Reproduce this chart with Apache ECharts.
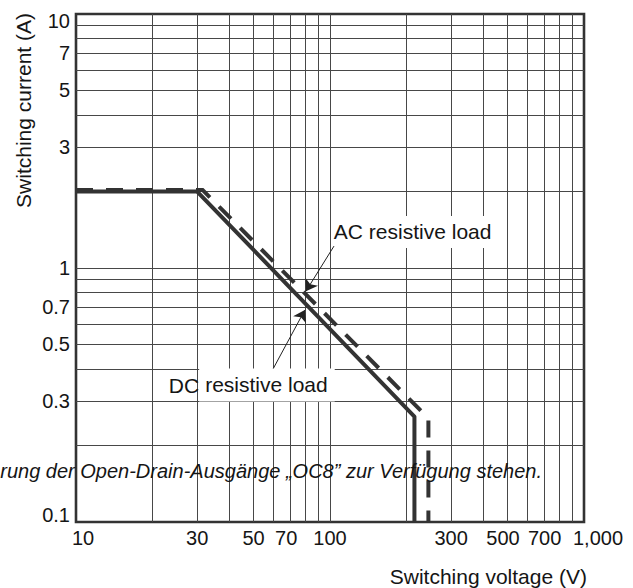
<!DOCTYPE html>
<html><head><meta charset="utf-8">
<script src="https://cdn.jsdelivr.net/npm/echarts@6/dist/echarts.min.js"></script>
<style>html,body{margin:0;padding:0;background:#fff}#c{width:633px;height:588px}</style>
</head><body><div id="c"></div>
<script>
// ---- data ----
const xGridValues = [20,30,40,50,60,70,80,90,100,200,300,400,500,600,700,800,900];
const yGridValues = [0.2,0.3,0.4,0.5,0.6,0.7,0.8,0.9,1,2,3,4,5,6,7,8,9];
const xTickLabels = [10,30,50,70,100,300,500,700,1000];
const yTickLabels = [0.1,0.3,0.5,0.7,1,3,5,7,10];
const dcVoltage = [10,30,215,215];
const dcCurrent = [2,2,0.26,0.1];
const acVoltage = [10,31.5,244,244];
const acCurrent = [2.03,2.03,0.256,0.1];
const acName = 'AC resistive load';
const dcName = 'DC resistive load';
const acArrowFrom = [103.7,1.22], acArrowTo = [80.4,0.81];
const dcArrowFrom = [59.4,0.397], dcArrowTo = [79.6,0.683];
const acLabelAt = [103.4,1.386];
const dcLabelAt = [23.2,0.346];
const xTitle = 'Switching voltage (V)';
const yTitle = 'Switching current (A)';
const strayText = 'rung der Open-Drain-Ausgänge „OC8” zur Verfügung stehen.';

// ---- chart ----
const FF = '"Liberation Sans", Arial, Helvetica, sans-serif';
const ink = '#151515';
const lineInk = '#333333';
const gridInk = '#474747';
const zip = (a,b) => a.map((v,i)=>[v,b[i]]);
const fmtNum = v => { const n = +(+v).toPrecision(6); return n >= 1000 ? n.toLocaleString('en-US') : String(n); };

const chart = echarts.init(document.getElementById('c'), null, {renderer:'svg'});
const txt = {fontFamily: FF, fontSize: 20, color: ink};
const big = {fontFamily: FF, fontSize: 21, color: ink};

chart.setOption({
  animation: false,
  backgroundColor: '#fff',
  grid: {left: 76, right: 49, top: 14, bottom: 66, show: true, borderColor: lineInk, borderWidth: 2.6, backgroundColor: 'transparent'},
  xAxis: {
    type: 'log', logBase: 10, min: 10, max: 1000,
    name: xTitle, nameLocation: 'end', nameGap: 3,
    nameTextStyle: Object.assign({}, big, {align: 'right', verticalAlign: 'top', padding: [44,0,0,0]}),
    axisLine: {show: false},
    axisTick: {show: false, customValues: xGridValues},
    splitLine: {show: true, lineStyle: {color: gridInk, width: 1}},
    minorTick: {show: false}, minorSplitLine: {show: false},
    axisLabel: Object.assign({}, txt, {
      margin: 6,
      customValues: xTickLabels,
      formatter: v => {
        const s = fmtNum(v);
        if (Math.abs(v-10) < 1e-6) return '{l|' + s + '}';
        if (Math.abs(v-1000) < 1e-6) return '{r|' + s + '}';
        if (Math.abs(v-70) < 1e-6 || Math.abs(v-500) < 1e-6) return '{s|' + s + '}';
        return s;
      },
      rich: {
        l: Object.assign({}, txt, {padding: [0,0,0,14]}),
        r: Object.assign({}, txt, {padding: [0,0,0,28]}),
        s: Object.assign({}, txt, {padding: [0,9,0,0]})
      }
    })
  },
  yAxis: {
    type: 'log', logBase: 10, min: 0.1, max: 10,
    name: yTitle, nameLocation: 'end', nameRotate: 90, nameGap: 1,
    nameTextStyle: Object.assign({}, big, {align: 'right', verticalAlign: 'bottom', padding: [0,0,42,0]}),
    axisLine: {show: false},
    axisTick: {show: false, customValues: yGridValues},
    splitLine: {show: true, lineStyle: {color: gridInk, width: 1}},
    minorTick: {show: false}, minorSplitLine: {show: false},
    axisLabel: Object.assign({}, txt, {
      margin: 6,
      customValues: yTickLabels,
      formatter: v => {
        const s = fmtNum(v);
        if (Math.abs(v-10) < 1e-6) return '{t|' + s + '}';
        if (Math.abs(v-0.1) < 1e-9) return '{b|' + s + '}';
        return s;
      },
      rich: {
        t: Object.assign({}, txt, {padding: [14,0,0,0]}),
        b: Object.assign({}, txt, {padding: [0,0,14,0]})
      }
    })
  },
  series: [
    {
      name: dcName, type: 'line', data: zip(dcVoltage, dcCurrent), symbol: 'none',
      lineStyle: {color: lineInk, width: 4, cap: 'butt', join: 'round'},
      z: 3,
      markLine: {
        silent: true, animation: false, symbol: ['none','arrow'], symbolSize: 11,
        label: {show: false},
        lineStyle: {color: '#222', width: 1, type: 'solid'},
        data: [[{coord: dcArrowFrom}, {coord: dcArrowTo}]]
      },
      markPoint: {
        silent: true, animation: false, symbol: 'circle', symbolSize: 0,
        data: [{coord: dcLabelAt, value: dcName}],
        label: {
          show: true, position: [0,0], align: 'left', verticalAlign: 'middle',
          formatter: '{a|DC}{b|resistive load}',
          rich: {
            a: Object.assign({}, big, {padding: [0,0,0,0]}),
            b: Object.assign({}, big, {backgroundColor: '#fff', padding: [5,7,7,6]})
          }
        }
      }
    },
    {
      name: acName, type: 'line', data: zip(acVoltage, acCurrent), symbol: 'none',
      lineStyle: {color: lineInk, width: 4, type: [17,13], cap: 'butt', join: 'miter'},
      z: 3,
      markLine: {
        silent: true, animation: false, symbol: ['none','arrow'], symbolSize: 11,
        label: {show: false},
        lineStyle: {color: '#222', width: 1, type: 'solid'},
        data: [[{coord: acArrowFrom}, {coord: acArrowTo}]]
      },
      markPoint: {
        silent: true, animation: false, symbol: 'circle', symbolSize: 0,
        data: [{coord: acLabelAt, value: acName}],
        label: {
          show: true, position: [0,0], align: 'left', verticalAlign: 'middle',
          formatter: '{a|AC}{b|resistive load}',
          rich: {
            a: Object.assign({}, big, {padding: [0,0,0,0]}),
            b: Object.assign({}, big, {backgroundColor: '#fff', padding: [5,5,6,6]})
          }
        }
      }
    }
  ],
  graphic: [{
    type: 'text', x: 542, y: 471, silent: true, z: 10,
    style: {text: strayText, font: 'italic 20px ' + FF, fill: ink, align: 'right', verticalAlign: 'middle', textAlign: 'right', textVerticalAlign: 'middle'}
  }]
});
</script></body></html>
